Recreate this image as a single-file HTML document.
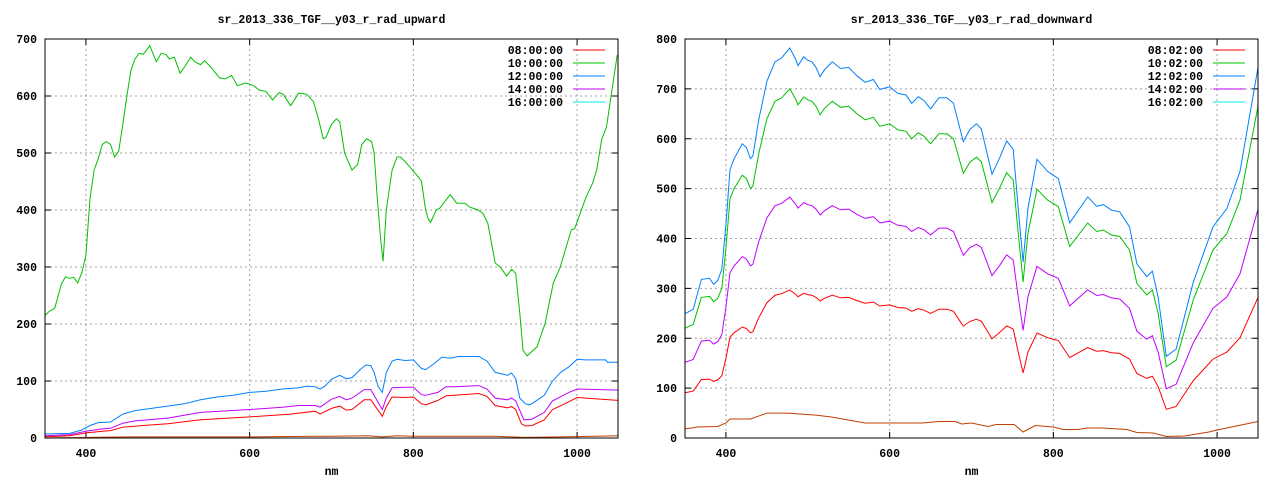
<!DOCTYPE html>
<html><head><meta charset="utf-8"><style>
html,body{margin:0;padding:0;background:#fff;}
svg{display:block;}
text{font-family:"Liberation Mono","DejaVu Sans Mono",monospace;font-weight:bold;font-size:11.5px;fill:#000;}
</style></head><body>
<svg id="s" width="1280" height="480" xmlns="http://www.w3.org/2000/svg"></svg>
<script>
const S=document.getElementById('s');let h='';
function plot(ox,title,ymax,ystep,series,legend){
 const L=ox,R=ox+573,T=39,B=438;
 const X=n=>L+(n-350)/700*(R-L), Y=v=>B-v/ymax*(B-T);
 h+=`<text x="${(L+R)/2}" y="23" text-anchor="middle" font-size="11">${title}</text>`;
 for(let n=400;n<=1000;n+=200){const x=X(n);
  h+=`<line x1="${x}" y1="${T}" x2="${x}" y2="${B}" stroke="#a0a0a0" stroke-dasharray="2,3"/>`;
  h+=`<line x1="${x}" y1="${B}" x2="${x}" y2="${B-6}" stroke="#000"/><line x1="${x}" y1="${T}" x2="${x}" y2="${T+6}" stroke="#000"/>`;
  h+=`<text x="${x}" y="457" text-anchor="middle">${n}</text>`;}
 for(let v=0;v<=ymax;v+=ystep){const y=Y(v);
  if(v>0&&v<ymax)h+=`<line x1="${L}" y1="${y}" x2="${R}" y2="${y}" stroke="#a0a0a0" stroke-dasharray="2,3"/>`;
  h+=`<line x1="${L}" y1="${y}" x2="${L+6}" y2="${y}" stroke="#000"/><line x1="${R}" y1="${y}" x2="${R-6}" y2="${y}" stroke="#000"/>`;
  h+=`<text x="${L-8}" y="${y+4}" text-anchor="end">${v}</text>`;}
 h+=`<text x="${(L+R)/2}" y="475" text-anchor="middle">nm</text>`;
 for(const [pts,c] of series){
  let p=[];for(let i=0;i<pts.length;i+=2)p.push(X(pts[i]).toFixed(1)+','+Y(Math.max(0,pts[i+1])).toFixed(1));
  h+=`<polyline points="${p.join(' ')}" fill="none" stroke="${c}" stroke-width="1"/>`;}
 const lc=['#ff0000','#00c000','#0080ff','#c000ff','#00eeee'];
 legend.forEach((t,i)=>{const y=50+i*13;
  h+=`<text x="${R-55}" y="${y+4}" text-anchor="end">${t}</text><line x1="${R-45}" y1="${y}" x2="${R-13}" y2="${y}" stroke="${lc[i]}"/>`;});
 h+=`<rect x="${L}" y="${T}" width="${R-L}" height="${B-T}" fill="none" stroke="#000"/>`;
}
const gL=[350,215,355,222,362,228,370,270,375,283,380,280,385,282,390,272,395,290,400,320,405,420,410,470,415,490,420,515,425,520,430,515,435,493,440,503,445,550,450,600,455,645,460,665,465,675,470,673,478,688,486,660,492,675,498,673,502,665,508,668,515,640,520,650,528,668,533,660,540,655,545,662,553,650,563,632,570,630,578,636,585,618,595,623,605,618,612,610,620,608,628,593,636,606,641,603,650,583,660,605,670,603,678,590,684,560,690,525,693,527,700,550,706,560,710,555,716,500,725,470,732,480,737,515,743,525,749,520,752,500,756,420,760,350,763,310,767,400,774,470,780,493,784,493,790,485,800,468,806,458,810,450,815,400,818,385,821,378,828,400,832,403,845,427,853,412,863,412,869,405,879,400,885,394,891,377,900,307,906,300,914,284,920,296,925,289,930,219,934,154,939,144,951,160,961,201,971,272,979,298,993,365,997,367,1011,423,1019,447,1024,470,1030,523,1036,546,1049,672];
const bL=[350,7,380,8,395,14,405,22,415,27,430,28,445,42,460,48,480,52,500,56,520,60,540,67,560,72,580,75,600,80,620,82,640,86,660,88,670,91,680,90,686,86,692,91,700,103,710,110,718,104,725,106,735,120,742,128,748,127,752,115,757,90,762,80,767,115,774,135,780,138,790,136,800,137,810,122,815,120,825,130,835,142,845,140,855,143,880,143,890,135,900,115,910,112,915,110,920,114,925,104,930,70,937,60,942,58,950,65,960,75,970,100,980,115,990,125,1000,138,1010,137,1035,137,1037,133,1050,133];
const pL=[350,4,380,6,400,12,420,16,430,17,445,26,460,30,500,35,540,45,600,50,640,54,660,57,680,57,686,54,700,68,710,73,718,67,725,70,740,85,748,85,762,50,767,70,774,88,790,89,800,89,810,76,815,75,830,80,840,90,850,90,880,92,890,86,900,70,915,67,920,70,925,65,935,32,945,33,960,45,970,65,990,80,1000,86,1050,84];
const rL=[350,2,380,4,400,9,420,12,430,13,445,19,470,22,500,25,540,32,600,37,650,42,680,47,686,42,700,52,710,56,718,49,725,50,740,67,748,67,762,38,767,55,774,72,790,71,800,72,810,60,815,58,830,66,840,74,850,75,880,78,890,73,900,57,915,53,920,55,925,50,932,25,937,21,945,22,960,32,970,50,985,60,1000,71,1050,66];
const oL=[350,0,450,2,600,2,680,3,700,3,745,4,762,2,780,4,800,3,820,3,900,3,935,1,980,2,1020,3,1050,4];
plot(45,'sr_2013_336_TGF__y03_r_rad_upward',700,100,[[gL,'#00c000'],[bL,'#0080ff'],[pL,'#c000ff'],[rL,'#ff0000'],[oL,'#c04000']],['08:00:00','10:00:00','12:00:00','14:00:00','16:00:00']);
const gR=[350,220,360,228,365,255,370,282,380,284,385,273,390,280,395,300,400,380,405,480,410,500,420,527,425,520,430,500,433,505,440,570,450,640,460,675,468,682,478,700,485,680,488,668,495,684,500,678,505,675,510,665,515,648,520,660,530,675,540,663,550,665,560,650,570,638,580,643,588,625,600,630,610,618,620,615,627,600,635,612,642,605,650,590,660,610,670,610,678,600,686,554,690,531,698,553,706,563,712,554,725,472,734,500,743,532,751,517,757,411,763,313,769,411,780,499,793,477,806,464,820,384,842,431,853,414,861,417,871,407,881,404,893,377,902,310,914,287,921,297,928,250,938,143,950,156,971,277,995,377,1012,410,1028,477,1050,665];
const sc=(a,k,o)=>a.map((v,i)=>i%2?v*k+o:v);
const oR=[350,18,365,22,390,23,400,30,405,38,430,38,450,50,475,50,510,46,530,42,570,30,600,30,640,30,660,33,680,33,688,28,700,30,720,23,730,27,752,27,763,12,778,25,800,22,812,17,830,17,842,20,860,20,890,17,902,11,922,10,938,3,960,4,990,12,1000,16,1050,33];
plot(685,'sr_2013_336_TGF__y03_r_rad_downward',800,100,[[sc(gR,1.11,5),'#0080ff'],[gR,'#00c000'],[sc(gR,0.69,0),'#c000ff'],[sc(gR,0.43,-4),'#ff0000'],[oR,'#c04000']],['08:02:00','10:02:00','12:02:00','14:02:00','16:02:00']);
S.innerHTML=h;
</script>
</body></html>
